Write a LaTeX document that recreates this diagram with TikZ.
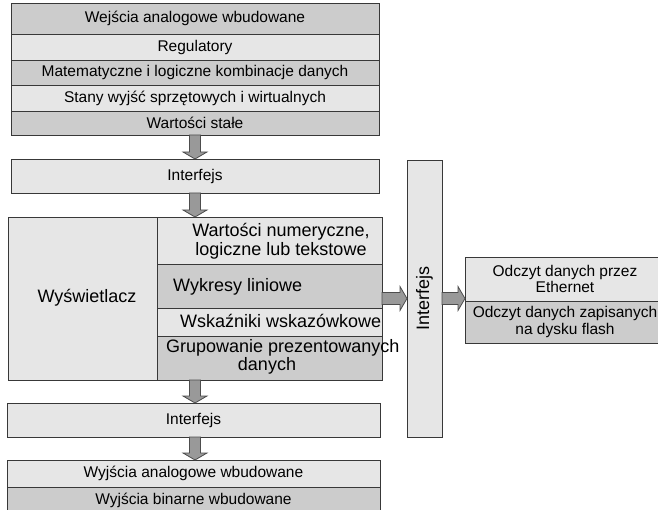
\documentclass[tikz,border=0pt]{standalone}
\usepackage{fontspec}
\setmainfont{Liberation Sans}
\usetikzlibrary{calc}
\definecolor{lightc}{HTML}{E6E6E6}
\definecolor{darkc}{HTML}{CCCCCC}
\definecolor{arrfill}{HTML}{999999}
\definecolor{arrline}{HTML}{4D4D4D}
\newcommand{\fsn}{\fontsize{15.5}{16.5}\selectfont}
\newcommand{\fsb}{\fontsize{18}{19}\selectfont}
\tikzset{
  cell/.style={draw=black!78, line width=0.9pt, inner sep=0pt, outer sep=0pt,
    anchor=north west, font=\fsn, align=center},
  lt/.style={cell, fill=lightc},
  dk/.style={cell, fill=darkc},
  big/.style={font=\fsb, inner sep=0pt, align=center},
  fatarr/.style={fill=arrfill, draw=arrline, line width=0.8pt, line join=miter},
}
\newcommand{\downarr}[2]{%
  \draw[fatarr] let \p1=(#1), \p2=(#2) in
    (\x1-5.5pt,\y1) -- (\x1-5.5pt,\y2+7pt) -- (\x1-12pt,\y2+7pt) -- (\x1,\y2)
    -- (\x1+12pt,\y2+7pt) -- (\x1+5.5pt,\y2+7pt) -- (\x1+5.5pt,\y1) -- cycle;}
\newcommand{\rightarr}[2]{%
  \draw[fatarr] let \p1=(#1), \p2=(#2) in
    (\x1,\y1+6pt) -- (\x2-7pt,\y1+6pt) -- (\x2-7pt,\y1+12pt) -- (\x2,\y1)
    -- (\x2-7pt,\y1-12pt) -- (\x2-7pt,\y1-6pt) -- (\x1,\y1-6pt) -- cycle;}
\begin{document}
\begin{tikzpicture}[x=1pt,y=-1pt]
\useasboundingbox (0,0) rectangle (658,510);
\clip (0,0) rectangle (658,510);
% top stack
\node[dk, minimum width=368pt, minimum height=31pt] (r1) at (11,3) {Wejścia analogowe wbudowane};
\node[lt, minimum width=368pt, minimum height=26pt] (r2) at (11,34) {Regulatory};
\node[dk, minimum width=368pt, minimum height=25pt] (r3) at (11,60) {Matematyczne i logiczne kombinacje danych};
\node[lt, minimum width=368pt, minimum height=26pt] (r4) at (11,85) {Stany wyjść sprzętowych i wirtualnych};
\node[dk, minimum width=368pt, minimum height=24pt] (r5) at (11,111) {Wartości stałe};
% interface 1
\node[lt, minimum width=368pt, minimum height=34pt] (if1) at (11,159) {Interfejs};
% display block
\node[lt, minimum width=149pt, minimum height=163pt] (disp) at (8,217) {};
\node[big] (disptxt) at (87,298) {Wyświetlacz};
\node[lt, minimum width=225pt, minimum height=47pt] (s1) at (157,217) {};
\node[dk, minimum width=225pt, minimum height=44pt] (s2) at (157,264) {};
\node[lt, minimum width=225pt, minimum height=28pt] (s3) at (157,308) {};
\node[dk, minimum width=225pt, minimum height=44pt] (s4) at (157,336) {};
\node[big] (s1txt) at (281,241) {Wartości numeryczne,\\logiczne lub tekstowe};
\node[big, anchor=west] (s2txt) at (173,287) {Wykresy liniowe};
\node[big, anchor=west] (s3txt) at (180,321) {Wskaźniki wskazówkowe};
\node[big, anchor=west] (s4txta) at (166,348) {Grupowanie prezentowanych};
\node[big] (s4txtb) at (267,366) {danych};
% interface 2
\node[lt, minimum width=373pt, minimum height=34pt] (if2) at (7,403) {Interfejs};
% bottom stack
\node[lt, minimum width=373pt, minimum height=27pt] (b1) at (7,460) {Wyjścia analogowe wbudowane};
\node[dk, minimum width=373pt, minimum height=30pt] (b2) at (7,487) {};
\node[font=\fsn, inner sep=0pt] (b2txt) at (193.5,500) {Wyjścia binarne wbudowane};
% vertical interface
\node[lt, minimum width=35pt, minimum height=277pt] (vif) at (407,160) {};
\node[big, rotate=90] (viftxt) at (vif.center) {Interfejs};
% right stack
\node[lt, minimum width=200pt, minimum height=44pt] (o1) at (465,257) {Odczyt danych przez\\Ethernet};
\node[dk, minimum width=200pt, minimum height=42pt] (o2) at (465,301) {Odczyt danych zapisanych\\na dysku flash};
% arrows
\coordinate (ax) at (195,0);
\downarr{r5.south -| ax}{if1.north -| ax}
\downarr{if1.south -| ax}{s1.north -| ax}
\downarr{s4.south -| ax}{if2.north -| ax}
\downarr{if2.south -| ax}{b1.north -| ax}
\rightarr{vif.center -| s2.east}{vif.west}
\rightarr{vif.east}{vif.center -| o1.west}
\end{tikzpicture}
\end{document}
